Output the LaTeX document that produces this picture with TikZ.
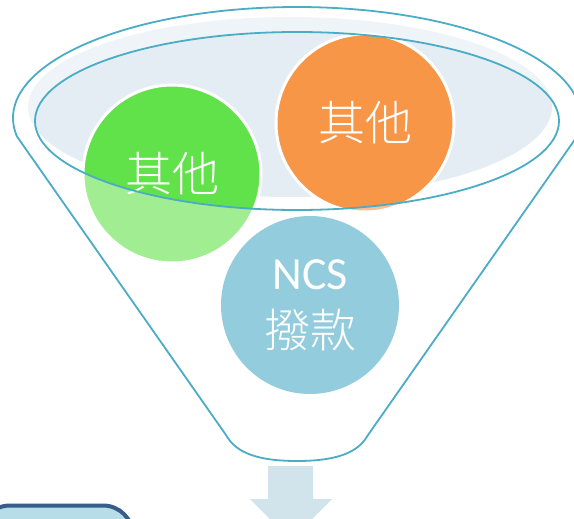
\documentclass[tikz,border=0pt]{standalone}
\usepackage{fontspec}
\setmainfont{Carlito}
\IfFontExistsTF{Noto Sans CJK TC Light}
  {\newfontfamily\cjk{Noto Sans CJK TC Light}}
  {\newfontfamily\cjk{Noto Sans CJK TC}}
\usepackage{xcolor}
\definecolor{funnelcol}{HTML}{4BACC6}
\definecolor{mouthcol}{HTML}{E4EDF3}
\definecolor{greenball}{HTML}{62E24A}
\definecolor{orangeball}{HTML}{F79646}
\definecolor{blueball}{HTML}{93CDDD}
\definecolor{arrowcol}{HTML}{D1E3EB}
\definecolor{boxfill}{HTML}{B7DEE8}
\definecolor{boxdraw}{HTML}{385D8A}
\tikzstyle{funnel line}=[funnelcol,line width=1.8]
\tikzstyle{ball}=[circle,minimum size=178,inner sep=0,text=white,
  font=\cjk\fontsize{47}{58}\selectfont]
\tikzstyle{ball rim}=[draw=white,line width=3]
\tikzstyle{veil}=[white,fill opacity=0.4,even odd rule]
\tikzstyle{box}=[draw=boxdraw,fill=boxfill,line width=4,rounded corners=30]

\begin{document}
\begin{tikzpicture}[x=1pt,y=1pt]
  \useasboundingbox (0,0) rectangle (574,-519);
  \clip (0,0) rectangle (574,-519);

  % MOUTH
  \fill[mouthcol] (290,-107) ellipse (262 and 90);

  % BALLS
  \node[ball,ball rim,fill=greenball] (other1) at (172,-174) {其他};
  \node[ball,ball rim,fill=orangeball] (other2) at (365,-123) {其他};

  % FUNNEL VEIL
  \fill[veil] (0,0) rectangle (574,-519)
    (297,-121) ellipse (262 and 89);

  % NCS
  \node[ball,fill=blueball,align=center,font=\fontsize{46}{58}\selectfont]
    (ncs) at (310,-305) {NCS\\{\cjk 撥款}};

  % FUNNEL
  \draw[funnel line] (297,-121) ellipse (262 and 89);
  \draw[funnel line] (297,-118) ++(189.6:284 and 111)
    arc[start angle=189.6,end angle=-9.6,x radius=284,y radius=111]
    -- (368,-435) .. controls (360,-449) and (344,-461) .. (297,-461)
    .. controls (250,-461) and (234,-449) .. (226,-435) -- cycle;

  % ARROW
  \fill[arrowcol] (268,-466) -- (313,-466) -- (313,-499) -- (332,-499)
    -- (291,-540) -- (250,-499) -- (268,-499) -- cycle;

  % NEXT BOX
  \draw[box] (-20,-505.5) rectangle (133,-580);

\end{tikzpicture}
\end{document}
